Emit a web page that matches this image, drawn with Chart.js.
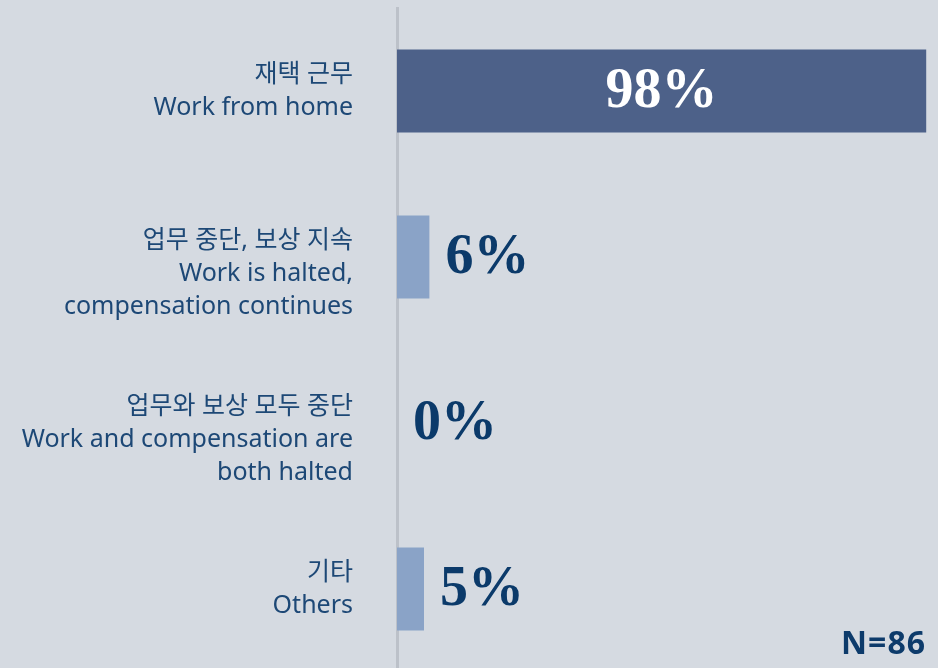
<!DOCTYPE html>
<html>
<head>
<meta charset="utf-8">
<script src="https://cdn.jsdelivr.net/npm/chart.js@4/dist/chart.umd.min.js"></script>
<style>
  html, body { margin: 0; padding: 0; background: #d5dae1; overflow: hidden; }
  #wrap { position: relative; width: 938px; height: 668px; }
  #n { position: absolute; right: 12px; top: 620px; font: bold 32px 'Noto Sans', sans-serif; letter-spacing: 1px; color: #0d3b6b; }
</style>
</head>
<body>
<div id="wrap">
  <canvas id="chart1" width="938" height="672"></canvas>
  <div id="n">N=86</div>
</div>
<script>
// Datos de la grafica
const categorias = [
  ['재택 근무', 'Work from home'],
  ['', '업무 중단, 보상 지속', 'Work is halted,', 'compensation continues'],
  ['', '업무와 보상 모두 중단', 'Work and compensation are', 'both halted'],
  ['기타', 'Others']
];
const valores = [98, 6, 0, 5];
const etiquetas = ['98%', '6%', '0%', '5%'];
const colores = ['#4d6189', '#8aa3c7', '#8aa3c7', '#8aa3c7'];

// Plugin para escribir los porcentajes junto a las barras
const valueLabels = {
  id: 'valueLabels',
  afterDatasetsDraw(chart) {
    const ctx = chart.ctx;
    const meta = chart.getDatasetMeta(0);
    ctx.save();
    ctx.font = 'bold 56px "Liberation Serif", serif';
    ctx.textBaseline = 'middle';
    meta.data.forEach((bar, i) => {
      const txt = etiquetas[i];
      if (valores[i] > 50) {
        ctx.fillStyle = '#ffffff';
        ctx.textAlign = 'center';
        ctx.fillText(txt, (bar.x + bar.base) / 2, bar.y + 2);
      } else {
        ctx.fillStyle = '#0b3a6a';
        ctx.textAlign = 'left';
        ctx.fillText(txt, bar.x + 16, bar.y + 2);
      }
    });
    ctx.restore();
  }
};

new Chart(document.getElementById('chart1'), {
  type: 'bar',
  data: {
    labels: categorias,
    datasets: [{
      data: valores,
      backgroundColor: colores,
      barPercentage: 0.5,
      categoryPercentage: 1
    }]
  },
  options: {
    indexAxis: 'y',
    responsive: false,
    animation: false,
    layout: { padding: { top: 8, right: 1, bottom: 0, left: 0 } },
    plugins: { legend: { display: false }, tooltip: { enabled: false } },
    scales: {
      x: { display: false, min: 0, max: 100 },
      y: {
        grid: { display: false },
        border: { display: true, color: '#bcc1c9', width: 3 },
        afterFit: (scale) => {
          scale.width = 397;
          scale.paddingTop = 0;
          scale.paddingBottom = 0;
        },
        ticks: {
          autoSkip: false,
          padding: 36,
          color: '#1d4876',
          font: { family: "'Noto Sans', 'Noto Sans CJK KR', sans-serif", size: 25, lineHeight: 1.32 }
        }
      }
    }
  },
  plugins: [valueLabels]
});
</script>
</body>
</html>
